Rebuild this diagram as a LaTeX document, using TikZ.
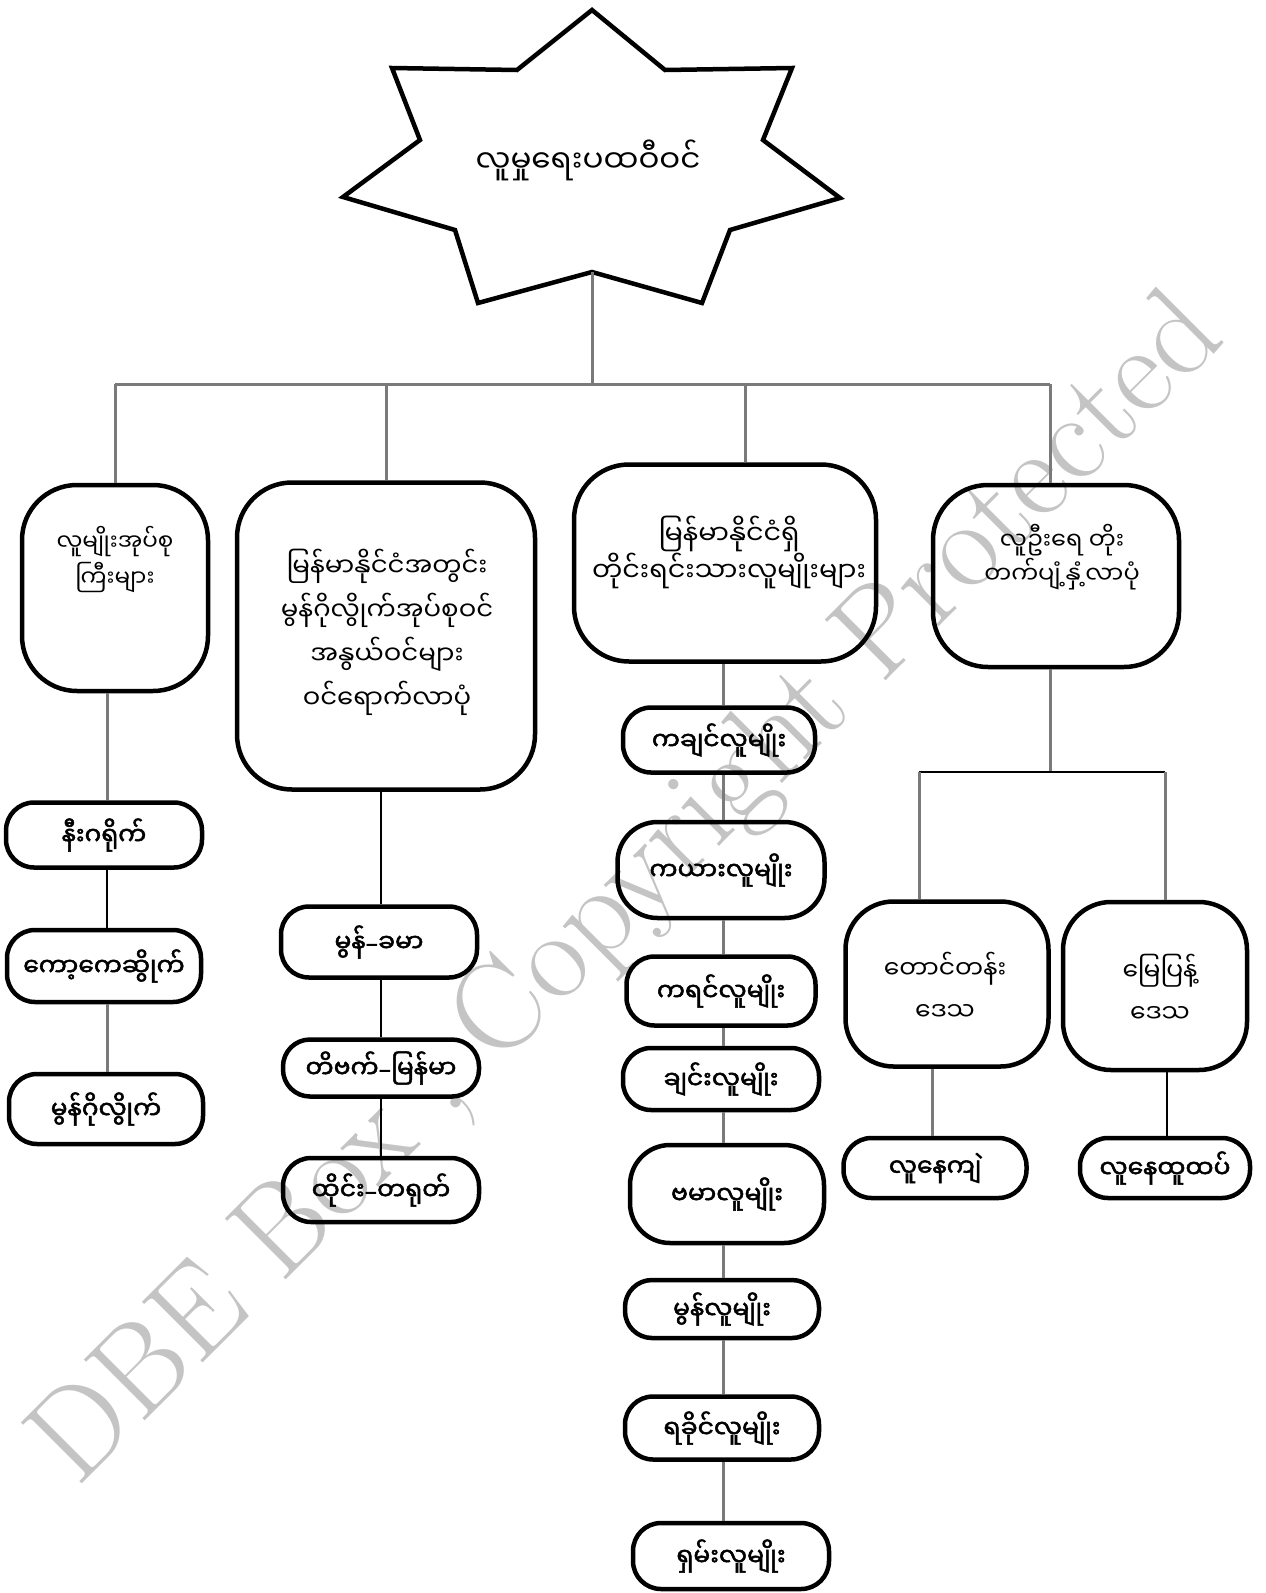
\documentclass[tikz,border=0pt]{standalone}
\usepackage{fontspec}
\newfontfamily\mm[Script=Myanmar]{Noto Sans Myanmar UI}
\newfontfamily\mmb[Script=Myanmar,FakeBold=2]{Noto Sans Myanmar UI}
\newfontfamily\dvb[FakeBold=1.5]{DejaVu Sans}
\newcommand{\dsh}{{\dvb –}}
\definecolor{lgray}{HTML}{7A7A7A}
\definecolor{wmark}{HTML}{C4C4C4}
\begin{document}
\begin{tikzpicture}[x=1pt,y=-1pt,
  bigbox/.style={draw, line width=4.5pt, rounded corners=55pt, inner sep=0pt},
  boxtext/.style={align=center, inner sep=0pt},
  pill/.style={draw, line width=4.5pt, rounded corners=28pt, align=center, inner sep=0pt, font=\mmb\fontsize{25}{30}\selectfont},
  gline/.style={draw=lgray, line width=3pt},
  kline/.style={draw=black, line width=2pt},
]
\useasboundingbox (0,0) rectangle (1266,1593);

% watermark
\node[rotate=45, text=wmark, font=\fontsize{126}{126}\selectfont, inner sep=0pt] (wm) at (630,892) {DBE Box , Copyright Protected};

% star
\draw[line width=4.5pt, line join=miter] (592,10) -- (665,70) -- (792,68) -- (763,140) -- (840,198) -- (730,230) -- (702,303) -- (592,272) -- (478,303) -- (455,230) -- (343,197) -- (420,140) -- (392,68) -- (517,70) -- cycle;
\node[font=\mm\fontsize{31}{36}\selectfont] (title) at (588,160) {လူမှုရေးပထဝီဝင်};
\coordinate (starbot) at (592,272);
\coordinate (hmid) at (592,384);
\coordinate (hl) at (115,384);
\coordinate (hr) at (1050,384);

% main boxes
\node[bigbox, minimum width=186pt, minimum height=206pt] (b1) at (115,588) {};
\node[boxtext, font=\mm\fontsize{23}{36}\selectfont] (b1t) at (115,560) {လူမျိုးအုပ်စု\\ကြီးများ};
\node[bigbox, minimum width=298pt, minimum height=307pt] (b2) at (386,636) {};
\node[boxtext, font=\mm\fontsize{26}{44}\selectfont] (b2t) at (387,632) {မြန်မာနိုင်ငံအတွင်း\\မွန်ဂိုလွိုက်အုပ်စုဝင်\\အနွယ်ဝင်များ\\ဝင်ရောက်လာပုံ};
\node[bigbox, minimum width=302pt, minimum height=197pt] (b3) at (725,563) {};
\node[boxtext, font=\mm\fontsize{27}{37}\selectfont] (b3t) at (729,552) {မြန်မာနိုင်ငံရှိ\\တိုင်းရင်းသားလူမျိုးများ};
\node[bigbox, minimum width=246pt, minimum height=182pt] (b4) at (1056,576) {};
\node[boxtext, font=\mm\fontsize{24}{34}\selectfont] (b4t) at (1062,557) {လူဦးရေ တိုး\\တက်ပျံ့နှံ့လာပုံ};

\draw[gline] (starbot) -- (hmid);
\draw[gline] (hl) -- (hr);
\draw[gline] (hl) -- (hl |- b1.north);
\draw[gline] (386,384) -- (b2.north);
\draw[gline] (745,384) -- (745,0 |- b3.north);
\draw[gline] (hr) -- (hr |- b4.north);

% column 1
\node[pill, minimum width=196pt, minimum height=65pt] (n1) at (104,835) {နီးဂရိုက်};
\node[pill, minimum width=194pt, minimum height=72pt] (n2) at (104,966) {ကော့ကေဆွိုက်};
\node[pill, minimum width=194pt, minimum height=70pt] (n3) at (106,1109) {မွန်ဂိုလွိုက်};
\draw[gline] (n1.north -| 107,0) -- (107,0 |- b1.south);
\draw[kline] (n2.north -| 107,0) -- (107,0 |- n1.south);
\draw[gline] (n3.north -| 107,0) -- (107,0 |- n2.south);

% column 2
\node[pill, minimum width=196pt, minimum height=71pt] (m1) at (379,942) {မွန်\dsh ခမာ};
\node[pill, rounded corners=27pt, minimum width=196pt, minimum height=57pt] (m2) at (381,1068) {တိဗက်\dsh မြန်မာ};
\node[pill, minimum width=196pt, minimum height=64pt] (m3) at (381,1190) {ထိုင်း\dsh တရုတ်};
\draw[kline] (m1.north -| 381,0) -- (381,0 |- b2.south);
\draw[kline] (m2.north -| 381,0) -- (381,0 |- m1.south);
\draw[kline] (m3.north -| 381,0) -- (381,0 |- m2.south);

% column 3
\node[pill, minimum width=192pt, minimum height=65pt] (k1) at (719,740) {ကချင်လူမျိုး};
\node[pill, rounded corners=40pt, minimum width=207pt, minimum height=96pt] (k2) at (721,870) {ကယားလူမျိုး};
\node[pill, minimum width=189pt, minimum height=69pt] (k3) at (721,991) {ကရင်လူမျိုး};
\node[pill, minimum width=196pt, minimum height=62pt] (k4) at (721,1079) {ချင်းလူမျိုး};
\node[pill, rounded corners=40pt, minimum width=194pt, minimum height=98pt] (k5) at (727,1194) {ဗမာလူမျိုး};
\node[pill, rounded corners=27pt, minimum width=194pt, minimum height=58pt] (k6) at (722,1309) {မွန်လူမျိုး};
\node[pill, minimum width=194pt, minimum height=63pt] (k7) at (722,1428) {ရခိုင်လူမျိုး};
\node[pill, minimum width=196pt, minimum height=66pt] (k8) at (731,1556) {ရှမ်းလူမျိုး};
\draw[gline] (723,0 |- b3.south) -- (723,0 |- k1.north);
\draw[gline] (723,0 |- k1.south) -- (723,0 |- k2.north);
\draw[gline] (723,0 |- k2.south) -- (723,0 |- k3.north);
\draw[gline] (723,0 |- k3.south) -- (723,0 |- k4.north);
\draw[gline] (723,0 |- k4.south) -- (723,0 |- k5.north);
\draw[gline] (723,0 |- k5.south) -- (723,0 |- k6.north);
\draw[gline] (723,0 |- k6.south) -- (723,0 |- k7.north);
\draw[gline] (723,0 |- k7.south) -- (723,0 |- k8.north);

% column 4
\node[bigbox, rounded corners=48pt, minimum width=203pt, minimum height=165pt] (t1) at (947,984) {};
\node[boxtext, font=\mm\fontsize{25}{42}\selectfont] (t1t) at (945,986) {တောင်တန်း\\ဒေသ};
\node[bigbox, rounded corners=48pt, minimum width=184pt, minimum height=168pt] (t2) at (1155,986) {};
\node[boxtext, font=\mm\fontsize{25}{42}\selectfont] (t2t) at (1160,988) {မြေပြန့်\\ဒေသ};
\coordinate (br) at (1050,772);
\coordinate (bl) at (919,772);
\coordinate (brr) at (1165,772);
\draw[gline] (1050,0 |- b4.south) -- (br);
\draw[kline, line width=2.5pt] (bl) -- (brr);
\draw[gline] (bl) -- (bl |- t1.north);
\draw[gline] (brr) -- (brr |- t2.north);
\node[pill, minimum width=183pt, minimum height=60pt] (u1) at (935,1168) {လူနေကျဲ};
\node[pill, minimum width=170pt, minimum height=60pt] (u2) at (1165,1168) {လူနေထူထပ်};
\draw[gline] (932,0 |- t1.south) -- (932,0 |- u1.north);
\draw[kline, line width=2.5pt] (1167,0 |- t2.south) -- (1167,0 |- u2.north);
\end{tikzpicture}
\end{document}
